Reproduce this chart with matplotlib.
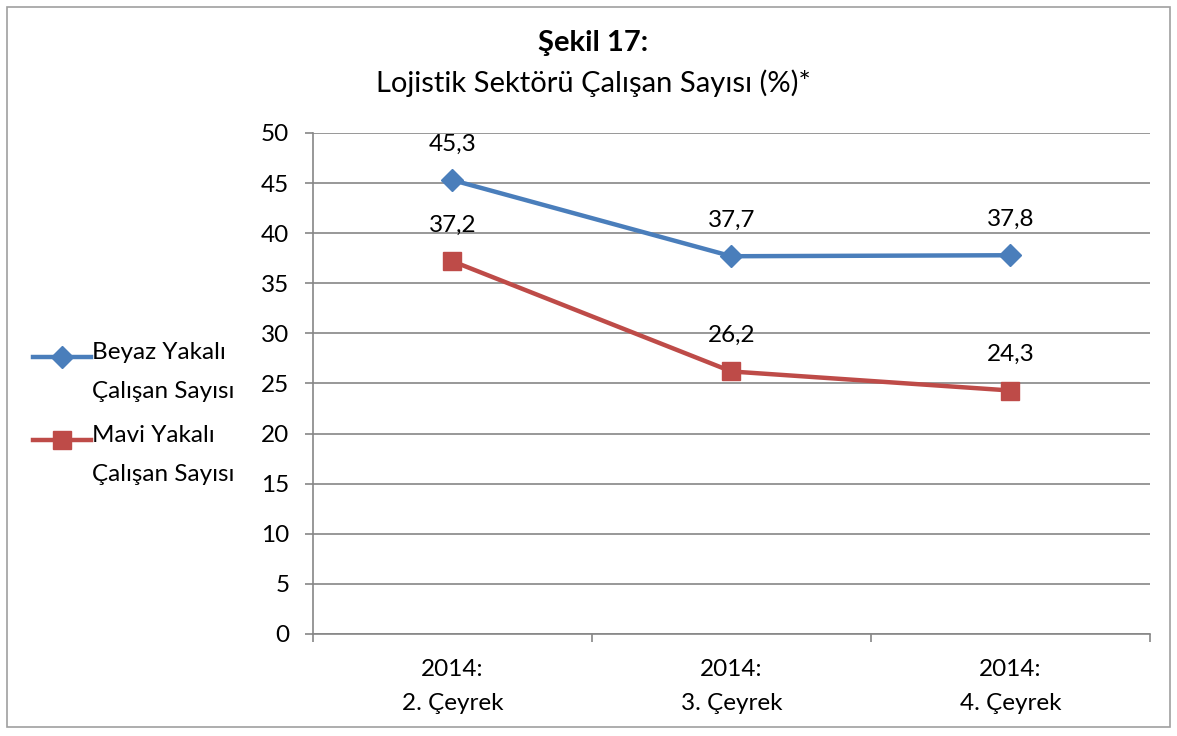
import numpy as np
import matplotlib
matplotlib.use('Agg')
import matplotlib.pyplot as plt
from matplotlib.lines import Line2D
from matplotlib.patches import Rectangle

plt.rcParams['font.family'] = ['Lato', 'DejaVu Sans']

categories = ['2014:\n2. Çeyrek', '2014:\n3. Çeyrek', '2014:\n4. Çeyrek']
beyaz = [45.3, 37.7, 37.8]
mavi = [37.2, 26.2, 24.3]
series_names = ['Beyaz Yakalı\nÇalışan Sayısı', 'Mavi Yakalı\nÇalışan Sayısı']

blue = '#4A7EBB'
red = '#BE4B48'
grid_c = '#868686'
fs = 17.5

fig = plt.figure(figsize=(11.77, 7.36), dpi=100)
fig.patch.set_facecolor('white')
fig.add_artist(Rectangle((0.006, 0.012), 0.988, 0.978, transform=fig.transFigure,
                         fill=False, edgecolor='#A0A0A0', linewidth=1.2))

ax = fig.add_axes([0.2659, 0.1386, 0.7111, 0.6807])
x = np.arange(len(categories))

ax.plot(x, beyaz, color=blue, lw=3.2, marker='D', ms=11, mfc=blue, mec=blue, zorder=3)
ax.plot(x, mavi, color=red, lw=3.2, marker='s', ms=12.5, mfc=red, mec=red, zorder=3)

for xi, v in zip(x, beyaz):
    ax.annotate(f'{v:.1f}'.replace('.', ','), (xi, v), xytext=(0, 26), textcoords='offset points',
                ha='center', va='center', fontsize=fs)
for xi, v in zip(x, mavi):
    ax.annotate(f'{v:.1f}'.replace('.', ','), (xi, v), xytext=(0, 26), textcoords='offset points',
                ha='center', va='center', fontsize=fs)

ax.set_ylim(0, 50)
ax.set_yticks(np.arange(0, 51, 5))
ax.set_xlim(-0.5, len(categories) - 0.5)
ax.set_xticks(np.arange(-0.5, len(categories), 1))
ax.set_xticklabels([])
ax.set_xticks(x, minor=True)
ax.set_xticklabels(categories, minor=True, fontsize=fs, linespacing=1.75)
ax.tick_params(axis='x', which='minor', length=0, pad=18)
ax.tick_params(axis='x', which='major', length=6, color=grid_c, width=1.2)
ax.tick_params(axis='y', length=6, color=grid_c, width=1.2, labelsize=fs, pad=11)

ax.yaxis.grid(True, color=grid_c, lw=1.2)
ax.set_axisbelow(True)
for s in ['top', 'right']:
    ax.spines[s].set_visible(False)
for s in ['left', 'bottom']:
    ax.spines[s].set_color(grid_c)
    ax.spines[s].set_linewidth(1.2)

fig.text(0.504, 0.941, 'Şekil 17:', ha='center', va='center', fontsize=21, fontweight='bold')
fig.text(0.504, 0.887, 'Lojistik Sektörü Çalışan Sayısı (%)*', ha='center', va='center', fontsize=21)

# legend on the left
leg_y = [0.515, 0.402]
for (name, col, mk, ms), ly in zip([(series_names[0], blue, 'D', 11), (series_names[1], red, 's', 12.5)], leg_y):
    fig.add_artist(Line2D([0.028, 0.077], [ly, ly], transform=fig.transFigure, color=col, lw=3.2))
    fig.add_artist(Line2D([0.0525], [ly], transform=fig.transFigure, marker=mk, ms=ms,
                          mfc=col, mec=col, color=col))
    fig.text(0.078, ly + 0.02, name, ha='left', va='top', fontsize=fs, linespacing=2.05)

fig.savefig('out.png', dpi=100)
